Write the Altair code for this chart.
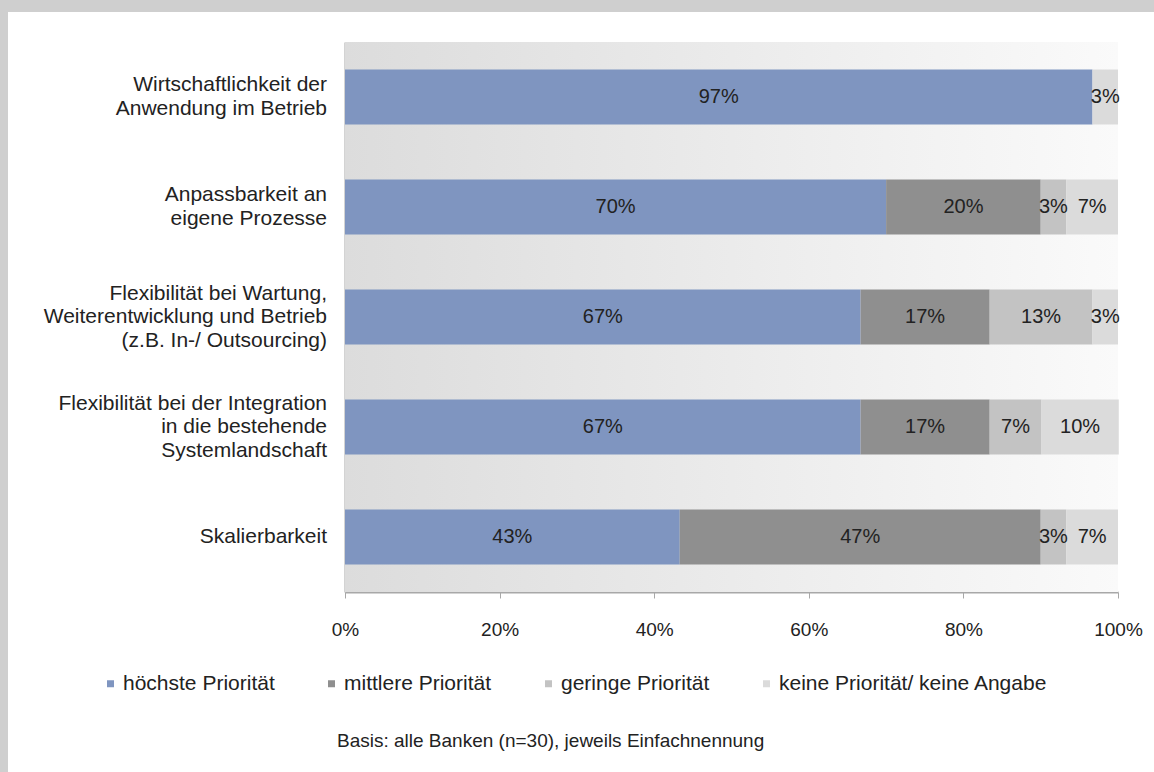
import altair as alt
import pandas as pd

items = [
    "Wirtschaftlichkeit der|Anwendung im Betrieb",
    "Anpassbarkeit an|eigene Prozesse",
    "Flexibilität bei Wartung,|Weiterentwicklung und Betrieb|(z.B. In-/ Outsourcing)",
    "Flexibilität bei der Integration|in die bestehende|Systemlandschaft",
    "Skalierbarkeit",
]
categories = ["höchste Priorität", "mittlere Priorität", "geringe Priorität",
              "keine Priorität/ keine Angabe"]
hoechste = [96.7, 70.0, 66.7, 66.7, 43.3]
mittlere = [0.0, 20.0, 16.7, 16.7, 46.7]
geringe = [0.0, 3.3, 13.3, 6.7, 3.3]
keine = [3.3, 6.7, 3.3, 10.0, 6.7]
x_ticks = [0, 20, 40, 60, 80, 100]
colors = ["#7f95c0", "#8f8f8f", "#c3c3c3", "#dbdbdb"]
footnote = "Basis: alle Banken (n=30), jeweils Einfachnennung"

series = [hoechste, mittlere, geringe, keine]
rows = []
for ci, (cat, vals) in enumerate(zip(categories, series)):
    for it, v in zip(items, vals):
        rows.append({"item": it, "cat": cat, "ord": ci, "value": v})
df = pd.DataFrame(rows)

lab_rows = []
for it in items:
    parts = it.split("|")
    for k, p in enumerate(parts):
        lab_rows.append({"item": it, "line": p, "k": k, "n": len(parts)})
labdf = pd.DataFrame(lab_rows)

W, H = 773, 550
PL, PT = 345, 42
FONT = "Liberation Sans"
TXT = "#222222"
LH = 23.5
HALF_BAND = 27.5

base = alt.Chart(df).transform_filter("datum.value > 0").transform_stack(
    stack="value", groupby=["item"], sort=[alt.SortField("ord", order="ascending")],
    as_=["x0", "x1"]
)

yscale = alt.Scale(domain=items, paddingInner=0.5, paddingOuter=0.25)

bars = base.mark_bar().encode(
    y=alt.Y("item:N", sort=items, title=None, scale=yscale,
            axis=alt.Axis(labels=False, ticks=False, domainColor="#a8a8a8", domainWidth=2)),
    x=alt.X("x0:Q", scale=alt.Scale(domain=[0, 100], nice=False), title=None,
            axis=alt.Axis(values=x_ticks, labelExpr="datum.value + '%'", grid=False,
                          tickSize=6, tickColor="#a8a8a8", domainColor="#a8a8a8",
                          domainWidth=2, labelFontSize=19, labelColor=TXT, labelFont=FONT,
                          labelPadding=22, labelFlush=False)),
    x2="x1:Q",
    color=alt.Color("cat:N", scale=alt.Scale(domain=categories, range=colors),
                    legend=alt.Legend(title=None, orient="none", direction="horizontal",
                                      legendX=100 - PL, legendY=673 - PT,
                                      symbolType="square", symbolSize=49,
                                      symbolStrokeWidth=0, labelFontSize=21,
                                      labelFont=FONT, labelColor=TXT, labelOffset=2,
                                      labelLimit=500, columnPadding=46)),
)

labels = base.transform_calculate(
    xm="(datum.x0 + datum.x1) / 2",
    lbl="round(datum.value) + '%'",
).mark_text(fontSize=20, font=FONT, color=TXT).encode(
    y=alt.Y("item:N", sort=items, scale=yscale),
    x=alt.X("xm:Q"),
    text="lbl:N",
)

ylabels = alt.Chart(labdf).transform_calculate(
    off=f"(datum.k - (datum.n - 1) / 2) * {LH} + {HALF_BAND}"
).mark_text(fontSize=21, font=FONT, color=TXT, align="right", baseline="middle").encode(
    y=alt.Y("item:N", sort=items, scale=yscale),
    yOffset=alt.YOffset("off:Q", scale=None),
    x=alt.value(-18),
    text="line:N",
)

one = pd.DataFrame({"a": [0]})
bg = alt.Chart(one).mark_rect(
    color=alt.Gradient(gradient="linear", x1=0, x2=1, y1=0, y2=0,
                       stops=[alt.GradientStop(offset=0, color="#dcdcdc"),
                              alt.GradientStop(offset=1, color="#fafafa")])
).encode(x=alt.value(0), x2=alt.value(W), y=alt.value(0), y2=alt.value(H))

frame_left = alt.Chart(one).mark_rect(color="#cfcfcf").encode(
    x=alt.value(-PL), x2=alt.value(-PL + 8), y=alt.value(-PT), y2=alt.value(772 - PT))
frame_top = alt.Chart(one).mark_rect(color="#cfcfcf").encode(
    x=alt.value(-PL), x2=alt.value(1154 - PL), y=alt.value(-PT), y2=alt.value(-PT + 12))

note = alt.Chart(pd.DataFrame({"t": [footnote]})).mark_text(
    fontSize=19, font=FONT, color=TXT, align="left", baseline="middle"
).encode(text="t:N", x=alt.value(337 - PL), y=alt.value(741 - PT))

chart = alt.layer(frame_left, frame_top, bg, bars, labels, ylabels, note).properties(
    width=W, height=H,
    autosize=alt.AutoSizeParams(type="none"),
    padding={"left": PL, "top": PT, "right": 1154 - PL - W, "bottom": 772 - PT - H},
    background="white",
).configure_view(stroke=None)

chart.save("out.html", embed_options={"renderer": "svg", "actions": False})
